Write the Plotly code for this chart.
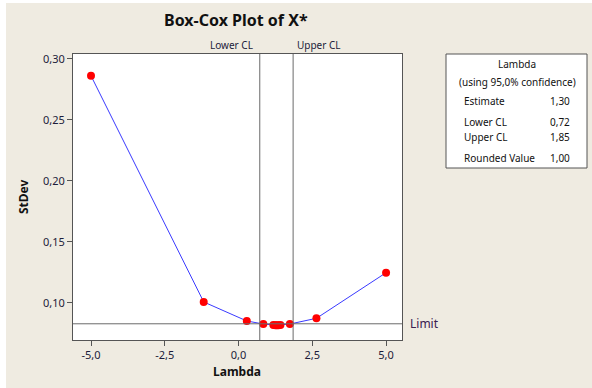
import plotly.graph_objects as go

# ---- data ----
lambda_vals = [-5.0, -1.18, 0.28, 0.84, 1.18, 1.25, 1.30, 1.35, 1.42, 1.74, 2.64, 5.0]
stdev_vals = [0.2861, 0.1006, 0.0850, 0.0825, 0.0817, 0.0816, 0.0816, 0.0816, 0.0818, 0.0825, 0.0872, 0.1246]
limit_val = 0.0827
lower_cl = 0.72
upper_cl = 1.85
x_ticks = [-5.0, -2.5, 0.0, 2.5, 5.0]
x_tick_labels = ["-5,0", "-2,5", "0,0", "2,5", "5,0"]
y_ticks = [0.10, 0.15, 0.20, 0.25, 0.30]
y_tick_labels = ["0,10", "0,15", "0,20", "0,25", "0,30"]
legend_rows = [("Estimate", "1,30"), ("Lower CL", "0,72"), ("Upper CL", "1,85"), ("Rounded Value", "1,00")]

W, H = 592, 388
L, R, T, B = 73, 402, 54, 340
BG = "#EFEBE1"
FONT = "Noto Sans"
TXT = "#1c1c3a"

def px(x):
    return (x - L) / (R - L)

def py(y):
    return (B - y) / (B - T)

fig = go.Figure()
fig.add_trace(go.Scatter(
    x=lambda_vals, y=stdev_vals, mode="lines+markers",
    line=dict(color="#3a3aff", width=1),
    marker=dict(color="#ff0000", size=8),
    hoverinfo="skip", showlegend=False,
))

shapes = [
    # white strips at the image edges
    dict(type="rect", xref="paper", yref="paper", x0=px(-2), x1=px(6), y0=py(H + 2), y1=py(-2),
         fillcolor="white", line=dict(width=0), layer="below"),
    dict(type="rect", xref="paper", yref="paper", x0=px(-2), x1=px(W + 2), y0=py(3), y1=py(-2),
         fillcolor="white", line=dict(width=0), layer="below"),
    # CL lines
    dict(type="line", xref="x", yref="paper", x0=lower_cl, x1=lower_cl, y0=0, y1=1,
         line=dict(color="#6a6a6a", width=1)),
    dict(type="line", xref="x", yref="paper", x0=upper_cl, x1=upper_cl, y0=0, y1=1,
         line=dict(color="#6a6a6a", width=1)),
    # limit line
    dict(type="line", xref="paper", yref="y", x0=0, x1=1, y0=limit_val, y1=limit_val,
         line=dict(color="#6a6a6a", width=1)),
    # info box
    dict(type="rect", xref="paper", yref="paper", x0=px(446), x1=px(587), y0=py(168), y1=py(54),
         fillcolor="white", line=dict(color="#555555", width=1)),
]

annotations = [
    dict(text="<b>Box-Cox Plot of X*</b>", x=px(236), y=py(20), xref="paper", yref="paper",
         showarrow=False, font=dict(family=FONT, size=16, color="#111111"),
         xanchor="center", yanchor="middle"),
    dict(text="Lower CL", x=lower_cl, xref="x", y=py(45), yref="paper", xshift=-5,
         showarrow=False, font=dict(family=FONT, size=10, color=TXT), xanchor="right", yanchor="middle"),
    dict(text="Upper CL", x=upper_cl, xref="x", y=py(45), yref="paper", xshift=2,
         showarrow=False, font=dict(family=FONT, size=10, color=TXT), xanchor="left", yanchor="middle"),
    dict(text="Limit", x=px(408), xref="paper", y=limit_val, yref="y",
         showarrow=False, font=dict(family=FONT, size=12, color="#3a2050"), xanchor="left", yanchor="middle"),
    dict(text="<b>Lambda</b>", x=px(237), y=py(371), xref="paper", yref="paper",
         showarrow=False, font=dict(family=FONT, size=12, color="#111111"), xanchor="center", yanchor="middle"),
    dict(text="<b>StDev</b>", x=px(23), y=py(197), xref="paper", yref="paper", textangle=-90,
         showarrow=False, font=dict(family=FONT, size=12, color="#111111"), xanchor="center", yanchor="middle"),
    dict(text="Lambda", x=px(517), y=py(64), xref="paper", yref="paper",
         showarrow=False, font=dict(family=FONT, size=10, color="#111111"), xanchor="center", yanchor="middle"),
    dict(text="(using 95,0% confidence)", x=px(517), y=py(82), xref="paper", yref="paper",
         showarrow=False, font=dict(family=FONT, size=10, color="#111111"), xanchor="center", yanchor="middle"),
]
row_y = [101, 122, 137, 158]
for (lab, val), yy in zip(legend_rows, row_y):
    annotations.append(dict(text=lab, x=px(462), y=py(yy), xref="paper", yref="paper",
                            showarrow=False, font=dict(family=FONT, size=10, color="#111111"),
                            xanchor="left", yanchor="middle"))
    annotations.append(dict(text=val, x=px(572), y=py(yy), xref="paper", yref="paper",
                            showarrow=False, font=dict(family=FONT, size=10, color="#111111"),
                            xanchor="right", yanchor="middle"))

fig.update_layout(
    width=W, height=H,
    margin=dict(l=L, r=W - R, t=T, b=H - B),
    paper_bgcolor=BG, plot_bgcolor="white",
    shapes=shapes, annotations=annotations,
    font=dict(family=FONT, size=11, color=TXT),
    xaxis=dict(range=[-5.61, 5.54], tickvals=x_ticks, ticktext=x_tick_labels,
               showgrid=False, zeroline=False, showline=True, mirror=True,
               linecolor="#555555", linewidth=1, ticks="outside", ticklen=5,
               tickcolor="#555555", tickfont=dict(family=FONT, size=11, color=TXT)),
    yaxis=dict(range=[0.0694, 0.304], tickvals=y_ticks, ticktext=y_tick_labels,
               showgrid=False, zeroline=False, showline=True, mirror=True,
               linecolor="#555555", linewidth=1, ticks="outside", ticklen=5,
               tickcolor="#555555", tickfont=dict(family=FONT, size=11, color=TXT)),
)

fig.write_html("out.html", config={"displayModeBar": False},
               post_script="document.body.style.margin='0';document.body.style.overflow='hidden';")
